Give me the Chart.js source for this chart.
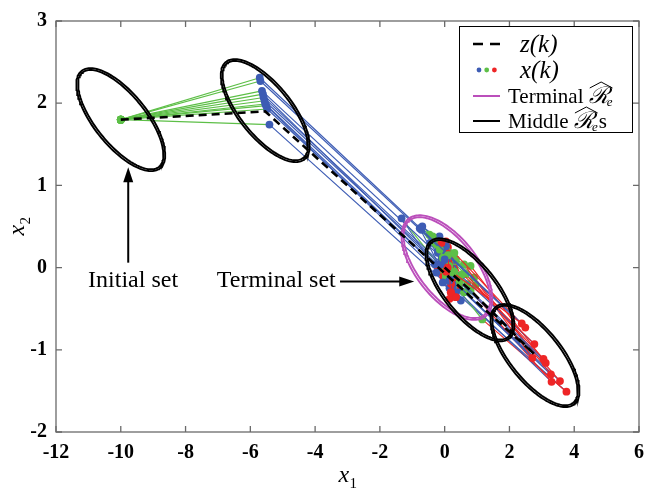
<!DOCTYPE html>
<html><head><meta charset="utf-8">
<script src="https://cdn.jsdelivr.net/npm/chart.js@4/dist/chart.umd.min.js"></script>
<style>html,body{margin:0;padding:0;background:#fff;}canvas{display:block;}</style>
</head><body>
<canvas id="c" width="653" height="490"></canvas>
<script>
// ---------- data ----------
const xTicks = [-12,-10,-8,-6,-4,-2,0,2,4,6];
const yTicks = [-2,-1,0,1,2,3];

// nominal trajectory z(k)
const zX = [-10, -5.54, 2.76, 0.78, 0];
const zY = [1.8, 1.9, -1.05, -0.27, 0];

// sampled trajectories x(k): one array per time step, 10 trajectories
const step0 = [[-10,1.8],[-10,1.8],[-10,1.8],[-10,1.8],[-10,1.8],[-10,1.8],[-10,1.8],[-10,1.8],[-10,1.8],[-10,1.8]];
const step1 = [[-5.71,2.31],[-5.69,2.27],[-5.64,2.15],[-5.61,2.11],[-5.59,2.07],[-5.56,2.03],[-5.54,1.99],[-5.51,1.97],[-5.48,1.93],[-5.41,1.74]];
const step2 = [[2.38,-0.68],[2.49,-0.73],[2.77,-0.93],[2.71,-1.10],[3.05,-1.11],[3.12,-1.16],[3.28,-1.30],[3.30,-1.39],[3.56,-1.38],[3.76,-1.51]];
const step3 = [[0.25,-0.06],[0.30,0.18],[0.55,-0.08],[0.60,0.04],[0.65,-0.08],[0.80,0.02],[0.91,-0.12],[0.80,-0.28],[0.96,-0.21],[1.16,-0.63]];
const step4 = [[-0.11,0.04],[0.04,0.26],[-0.26,-0.06],[-0.30,0.04],[-0.16,0.38],[-0.21,0.18],[-0.69,0.50],[-0.72,0.46],[-0.77,0.48],[-1.33,0.60]];
const step5 = [[0.09,0.00],[-0.06,0.00],[0.04,0.14],[0.25,-0.12],[-0.01,0.20],[0.35,-0.22],[-0.16,0.34],[0.04,0.32],[0.35,-0.36],[0.19,-0.30]];
const step6 = [[-0.06,0.12],[0.14,0.02],[-0.24,0.28],[0.40,-0.10],[-0.37,0.38],[0.70,-0.20],[-0.47,0.40],[0.50,-0.10],[0.20,0.10],[0.45,-0.25]];
const step7 = [[-0.06,-0.18],[0.14,-0.16],[0.25,-0.22],[0.35,-0.30],[0.50,-0.40],[-0.45,0.30],[-0.10,0.10],[0.20,0.05],[0.10,-0.05],[0.30,0.00]];
const step8 = [[0.19,-0.30],[0.35,-0.36],[0.10,0.25],[-0.10,0.22],[0.00,0.05],[0.15,-0.05],[-0.05,-0.10],[0.30,-0.15],[0.05,0.10],[0.20,0.05]];
const step9 = [[0.10,0.15],[-0.15,0.22],[0.30,-0.05],[0.05,-0.12],[0.45,-0.18],[-0.30,0.30],[0.60,-0.30],[0.15,0.05],[-0.05,0.05],[0.35,0.10]];
const step10 = [[0.00,0.10],[0.20,-0.10],[-0.10,0.15],[0.15,-0.25],[0.05,0.00],[-0.20,0.20],[0.40,-0.25],[0.25,-0.35],[-0.15,-0.05],[0.10,0.20]];
const step11 = [[0.05,-0.05],[-0.10,0.30],[0.20,-0.20],[-0.05,0.15],[0.30,-0.30],[0.10,0.05],[-0.20,-0.02],[0.15,-0.38],[0.00,0.20],[0.25,-0.10]];
const steps = [step0,step1,step2,step3,step4,step5,step6,step7,step8,step9,step10,step11];

// ellipsoidal sets: centres and shape (semi-axis vectors, data units)
const midCentersX = [-10, -5.54, 2.79, 0.78];
const midCentersY = [1.8, 1.91, -1.07, -0.27];
const midMajor = [1.211, -0.593];
const midMinor = [-0.645, -0.2016];
const termCenter = [0.07, 0.0];
const termMajor = [1.186, -0.594];
const termMinor = [-0.746, -0.228];
const ringScales = [[1.0,1.0],[0.97,0.92]];

// ---------- styling ----------
const stepColors = ['#5dbf47','#3d5cb4','#ee2526'];
const MAGENTA = '#bb4fbb';
const SERIF = '"Liberation Serif","Times New Roman","DejaVu Serif",serif';

function ellipsePts(cx, cy, A, B, sa, sb){
  const pts = [];
  const N = 160;
  for(let i=0;i<=N;i++){
    const t = 2*Math.PI*i/N;
    pts.push({x: cx + sa*Math.cos(t)*A[0] + sb*Math.sin(t)*B[0],
              y: cy + sa*Math.cos(t)*A[1] + sb*Math.sin(t)*B[1]});
  }
  return pts;
}

const datasets = [];
// z(k)
datasets.push({label:'z(k)', data: zX.map((v,i)=>({x:v,y:zY[i]})), showLine:true,
  borderColor:'#000', borderWidth:2.6, borderDash:[8,5], pointRadius:0, fill:false, tension:0});
// middle sets
midCentersX.forEach((cx,i)=>{
  ringScales.forEach(s=>{
    datasets.push({label:'mid', data: ellipsePts(cx, midCentersY[i], midMajor, midMinor, s[0], s[1]),
      showLine:true, borderColor:'#000', borderWidth:1.9, pointRadius:0, fill:false, tension:0});
  });
});
// terminal set
ringScales.forEach(s=>{
  datasets.push({label:'term', data: ellipsePts(termCenter[0], termCenter[1], termMajor, termMinor, s[0], s[1]),
    showLine:true, borderColor:MAGENTA, borderWidth:1.9, pointRadius:0, fill:false, tension:0});
});
// trajectories
for(let j=0;j<step0.length;j++){
  datasets.push({label:'traj'+j, data: steps.map(st=>({x:st[j][0], y:st[j][1]})), showLine:true,
    borderWidth:1.15, fill:false, tension:0,
    segment:{borderColor: ctx => stepColors[ctx.p0DataIndex % 3]},
    borderColor: stepColors[0],
    pointRadius:3.9, pointBorderWidth:0,
    pointBackgroundColor: ctx => stepColors[ctx.dataIndex % 3],
    pointBorderColor: ctx => stepColors[ctx.dataIndex % 3]});
}

// ---------- overlay: frame, inward ticks, axis titles, legend, annotations ----------
const overlay = {
  id:'overlay',
  afterDraw(chart){
    const {ctx, chartArea:a, scales} = chart;
    const sx = scales.x, sy = scales.y;
    const px = v => sx.getPixelForValue(v), py = v => sy.getPixelForValue(v);
    ctx.save();
    // frame and ticks
    ctx.strokeStyle = '#6a6a6a'; ctx.lineWidth = 1.3;
    ctx.strokeRect(a.left, a.top, a.right-a.left, a.bottom-a.top);
    ctx.beginPath();
    xTicks.forEach(v=>{const X=px(v); ctx.moveTo(X,a.bottom); ctx.lineTo(X,a.bottom-6); ctx.moveTo(X,a.top); ctx.lineTo(X,a.top+6);});
    yTicks.forEach(v=>{const Y=py(v); ctx.moveTo(a.left,Y); ctx.lineTo(a.left+6,Y); ctx.moveTo(a.right,Y); ctx.lineTo(a.right-6,Y);});
    ctx.stroke();

    ctx.fillStyle = '#000'; ctx.strokeStyle = '#000';
    // axis titles
    const cxA = (a.left+a.right)/2;
    ctx.textAlign = 'left'; ctx.textBaseline = 'alphabetic';
    ctx.font = 'italic 24px ' + SERIF;
    ctx.fillText('x', cxA-9, 482);
    ctx.font = '15px ' + SERIF;
    ctx.fillText('1', cxA+2, 488);
    ctx.save();
    ctx.translate(24, (a.top+a.bottom)/2);
    ctx.rotate(-Math.PI/2);
    ctx.font = 'italic 24px ' + SERIF;
    ctx.fillText('x', -9, 0);
    ctx.font = '15px ' + SERIF;
    ctx.fillText('2', 2, 6);
    ctx.restore();

    // annotations
    ctx.font = '24px ' + SERIF;
    ctx.textAlign = 'center'; ctx.textBaseline = 'middle';
    ctx.fillText('Initial set', px(-9.62), py(-0.16));
    ctx.fillText('Terminal set', px(-5.2), py(-0.16));
    ctx.lineWidth = 2;
    // vertical arrow
    const ax = px(-9.77), ay0 = py(0.06), ay1 = py(1.22);
    ctx.beginPath(); ctx.moveTo(ax, ay0); ctx.lineTo(ax, ay1+12); ctx.stroke();
    ctx.beginPath(); ctx.moveTo(ax, ay1); ctx.lineTo(ax-5, ay1+15); ctx.lineTo(ax+5, ay1+15); ctx.closePath(); ctx.fill();
    // horizontal arrow
    const hy = py(-0.17), hx0 = px(-3.23), hx1 = px(-0.94);
    ctx.beginPath(); ctx.moveTo(hx0, hy); ctx.lineTo(hx1-12, hy); ctx.stroke();
    ctx.beginPath(); ctx.moveTo(hx1, hy); ctx.lineTo(hx1-15, hy-5); ctx.lineTo(hx1-15, hy+5); ctx.closePath(); ctx.fill();

    // legend
    const L = 459, T = 26, R = 632, B = 132;
    ctx.fillStyle = '#fff'; ctx.fillRect(L, T, R-L, B-T);
    ctx.strokeStyle = '#000'; ctx.lineWidth = 1;
    ctx.strokeRect(L+0.5, T+0.5, R-L, B-T);
    const rows = [44, 70, 96, 121];
    ctx.fillStyle = '#000';
    // row 1: dashed
    ctx.lineWidth = 2.4;
    ctx.beginPath(); ctx.moveTo(473, rows[0]); ctx.lineTo(483, rows[0]); ctx.moveTo(490, rows[0]); ctx.lineTo(500, rows[0]); ctx.stroke();
    ctx.textAlign = 'left'; ctx.textBaseline = 'alphabetic';
    ctx.font = 'italic 25px ' + SERIF;
    ctx.fillText('z(k)', 520, rows[0]+8);
    // row 2: dots
    [stepColors[1], stepColors[0], stepColors[2]].forEach((c,i)=>{
      ctx.fillStyle = c; ctx.beginPath(); ctx.arc(479+i*7.7, rows[1], 2.4, 0, 2*Math.PI); ctx.fill();
    });
    ctx.fillStyle = '#000';
    ctx.fillText('x(k)', 520, rows[1]+8);
    // rows 3,4
    const drawRe = (x, y) => {
      ctx.font = 'italic 23px ' + SERIF;
      ctx.fillText('ℛ', x, y);
      const wR = ctx.measureText('ℛ').width;
      ctx.font = 'italic 13px ' + SERIF;
      ctx.fillText('e', x+wR-2, y+3);
      const wE = ctx.measureText('e').width;
      // wide hat
      ctx.lineWidth = 1; ctx.beginPath();
      const x0 = x+1, x1 = x+wR+wE-2, top = y-19;
      ctx.moveTo(x0, top+4); ctx.lineTo((x0+x1)/2, top-2); ctx.lineTo(x1, top+4); ctx.stroke();
      return x+wR+wE-2;
    };
    ctx.lineWidth = 2;
    ctx.strokeStyle = MAGENTA;
    ctx.beginPath(); ctx.moveTo(473, rows[2]); ctx.lineTo(500, rows[2]); ctx.stroke();
    ctx.strokeStyle = '#000';
    ctx.beginPath(); ctx.moveTo(473, rows[3]); ctx.lineTo(500, rows[3]); ctx.stroke();
    ctx.font = '21px ' + SERIF;
    ctx.fillText('Terminal', 508, rows[2]+7);
    let w = ctx.measureText('Terminal ').width;
    drawRe(508+w, rows[2]+7);
    ctx.font = '21px ' + SERIF;
    ctx.fillText('Middle', 508, rows[3]+7);
    w = ctx.measureText('Middle ').width;
    const xe = drawRe(508+w, rows[3]+7);
    ctx.font = '21px ' + SERIF;
    ctx.fillText('s', xe+1, rows[3]+7);
    ctx.restore();
  }
};

const tickFont = {family: SERIF, weight:'bold', size:20};
new Chart(document.getElementById('c'), {
  type:'scatter',
  data:{datasets},
  options:{
    responsive:false, animation:false, devicePixelRatio:1,
    layout:{padding:{left:0, right:8, top:14, bottom:0}},
    plugins:{legend:{display:false}, tooltip:{enabled:false}},
    elements:{line:{borderCapStyle:'butt'}},
    scales:{
      x:{type:'linear', min:-12, max:6,
        afterBuildTicks: s => { s.ticks = xTicks.map(v=>({value:v})); },
        afterFit: s => { s.height = 58; },
        grid:{display:false, drawTicks:false}, border:{display:false},
        ticks:{font:tickFont, color:'#000', padding:9, maxRotation:0, autoSkip:false}},
      y:{type:'linear', min:-2, max:3,
        afterBuildTicks: s => { s.ticks = yTicks.map(v=>({value:v})); },
        afterFit: s => { s.width = 56; },
        grid:{display:false, drawTicks:false}, border:{display:false},
        ticks:{font:tickFont, color:'#000', padding:9, autoSkip:false}}
    }
  },
  plugins:[overlay]
});
</script>
</body></html>
